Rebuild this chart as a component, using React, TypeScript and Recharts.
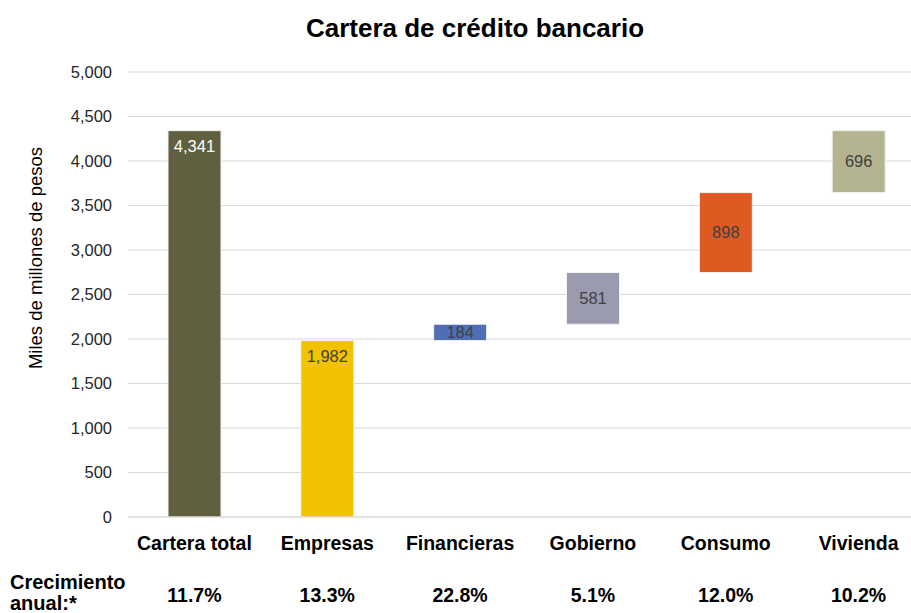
import React from "react";
import { BarChart, Bar, XAxis, YAxis, CartesianGrid, Cell, LabelList, Label } from "recharts";

const categories = ["Cartera total", "Empresas", "Financieras", "Gobierno", "Consumo", "Vivienda"];
const baseValues = [0, 0, 1982, 2166, 2747, 3645];
const barValues = [4341, 1982, 184, 581, 898, 696];
const growth = ["11.7%", "13.3%", "22.8%", "5.1%", "12.0%", "10.2%"];
const colors = ["#606041", "#F2C200", "#4F6EB5", "#9A9BAF", "#DE5A23", "#B4B590"];
const yTicks = [0, 500, 1000, 1500, 2000, 2500, 3000, 3500, 4000, 4500, 5000];

const data = categories.map((c, i) => ({ name: c, base: baseValues[i], value: barValues[i], growth: growth[i] }));

const FONT = "'Liberation Sans', Arial, sans-serif";

const fmt = (v: number) => v.toLocaleString("en-US");

const XTick = (props: any) => {
  const { x, y, payload, index } = props;
  return (
    <g>
      <text x={x} y={y + 31} textAnchor="middle" fontFamily={FONT} fontWeight="bold" fontSize={19.5} fill="#000">
        {payload.value}
      </text>
      <text x={x} y={y + 83} textAnchor="middle" fontFamily={FONT} fontWeight="bold" fontSize={19.5} fill="#000">
        {data[index]?.growth}
      </text>
    </g>
  );
};

const BarLabel = (props: any) => {
  const { x, y, width, height, index, value } = props;
  const top = index <= 1;
  const cy = top ? y + 16 : y + height / 2;
  return (
    <text
      x={x + width / 2}
      y={cy}
      dy="0.35em"
      textAnchor="middle"
      fontFamily={FONT}
      fontSize={16.5}
      fill={index === 0 ? "#ffffff" : "#404040"}
    >
      {fmt(value)}
    </text>
  );
};

export default function App() {
  return (
    <div style={{ position: "absolute", left: 0, top: 0, width: 911, height: 613, background: "#fff", overflow: "hidden" }}>
      <div
        style={{
          position: "absolute",
          left: 0,
          top: 13,
          width: 950,
          textAlign: "center",
          fontFamily: FONT,
          fontWeight: "bold",
          fontSize: 26,
          lineHeight: "30px",
          color: "#000",
        }}
      >
        Cartera de crédito bancario
      </div>
      <div
        style={{
          position: "absolute",
          left: 10,
          top: 572,
          fontFamily: FONT,
          fontWeight: "bold",
          fontSize: 20,
          lineHeight: "21px",
          color: "#000",
        }}
      >
        Crecimiento
        <br />
        anual:*
      </div>
      <BarChart
        width={925}
        height={613}
        data={data}
        margin={{ top: 72, right: 0, bottom: 66, left: 28 }}
        barSize={53}
      >
        <CartesianGrid vertical={false} stroke="#d9d9d9" />
        <XAxis
          dataKey="name"
          tick={<XTick />}
          tickLine={false}
          tickSize={0}
          axisLine={{ stroke: "#d9d9d9" }}
          interval={0}
        />
        <YAxis
          domain={[0, 5000]}
          ticks={yTicks}
          width={100}
          tickFormatter={fmt}
          tickLine={false}
          tickSize={0}
          tickMargin={16}
          axisLine={false}
          tick={{ fontFamily: FONT, fontSize: 16.5, fill: "#262626" }}
        >
          <Label
            content={() => (
              <text
                x={42}
                y={258}
                transform="rotate(-90 42 258)"
                textAnchor="middle"
                fontFamily={FONT}
                fontSize={18.5}
                fill="#000"
              >
                Miles de millones de pesos
              </text>
            )}
          />
        </YAxis>
        <Bar dataKey="base" stackId="a" fill="transparent" isAnimationActive={false} />
        <Bar dataKey="value" stackId="a" isAnimationActive={false} stroke="#f2f2f2" strokeWidth={1}>
          {data.map((d, i) => (
            <Cell key={d.name} fill={colors[i]} />
          ))}
          <LabelList dataKey="value" content={<BarLabel />} />
        </Bar>
      </BarChart>
    </div>
  );
}
